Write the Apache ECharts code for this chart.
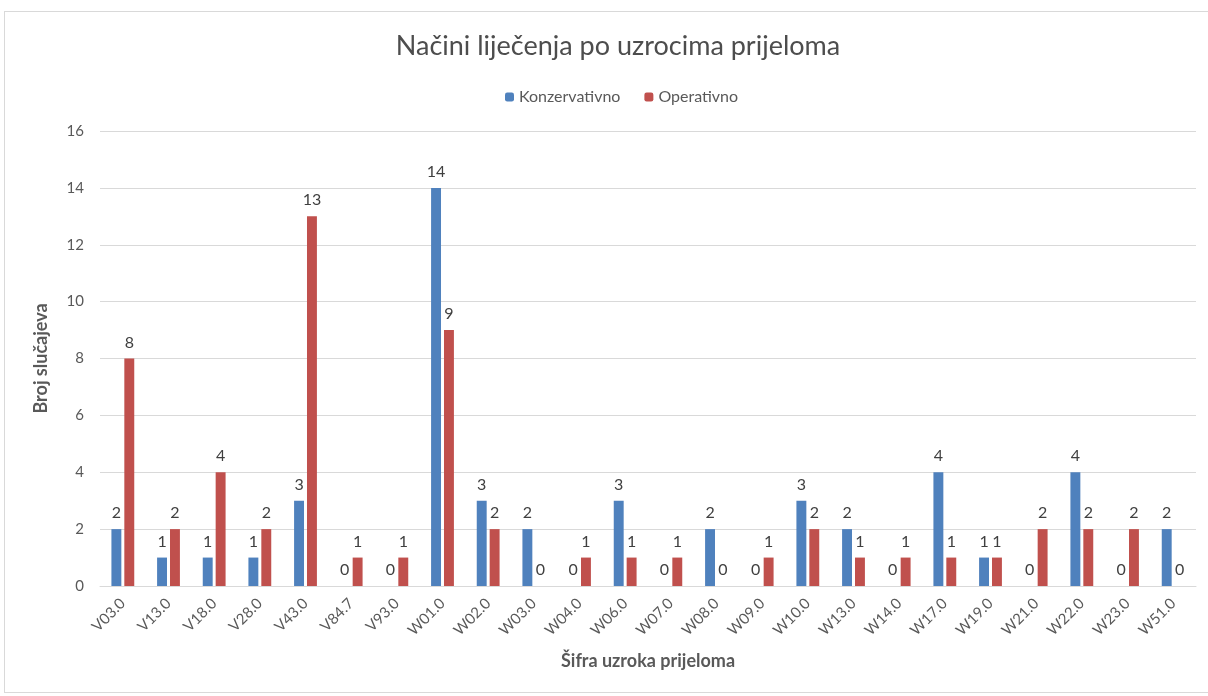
<!DOCTYPE html>
<html>
<head>
<meta charset="utf-8">
<script src="https://cdn.jsdelivr.net/npm/echarts@6/dist/echarts.min.js"></script>
<style>
  body { margin: 0; background: #fff; }
  #chart { width: 1208px; height: 696px; }
  .frame { position: absolute; left: 4px; top: 11px; width: 1210px; height: 680px; border: 1px solid #d9d9d9; pointer-events: none; }
</style>
</head>
<body>
<div id="chart"></div>
<div class="frame"></div>
<script>
// podaci s grafa
const categories = ['V03.0', 'V13.0', 'V18.0', 'V28.0', 'V43.0', 'V84.7', 'V93.0', 'W01.0', 'W02.0', 'W03.0',
  'W04.0', 'W06.0', 'W07.0', 'W08.0', 'W09.0', 'W10.0', 'W13.0', 'W14.0', 'W17.0', 'W19.0', 'W21.0', 'W22.0', 'W23.0', 'W51.0']
const konzervativno = [2, 1, 1, 1, 3, 0, 0, 14, 3, 2, 0, 3, 0, 2, 0, 3, 2, 0, 4, 1, 0, 4, 0, 2]
const operativno = [8, 2, 4, 2, 13, 1, 1, 9, 2, 0, 1, 1, 1, 0, 1, 2, 1, 1, 1, 1, 2, 2, 2, 0]

const font = 'Lato, "Open Sans", sans-serif'
const chart = echarts.init(document.getElementById('chart'))

const labelStyle = {
  show: true,
  position: 'top',
  distance: 8,
  color: '#404040',
  fontSize: 16,
  fontFamily: font
}

chart.setOption({
  animation: false,
  title: {
    text: 'Načini liječenja po uzrocima prijeloma',
    left: 613,
    textAlign: 'center',
    top: 28,
    textStyle: { color: '#4d4d4d', fontSize: 27, fontWeight: 'normal', fontFamily: font }
  },
  legend: {
    top: 84,
    left: 500,
    itemWidth: 9,
    itemHeight: 9,
    itemGap: 24,
    textStyle: { color: '#595959', fontSize: 16, fontFamily: font },
    data: ['Konzervativno', 'Operativno']
  },
  grid: { left: 100, right: 12, top: 131, bottom: 110 },
  xAxis: {
    type: 'category',
    data: categories,
    name: 'Šifra uzroka prijeloma',
    nameLocation: 'middle',
    nameGap: 66,
    nameTextStyle: { color: '#595959', fontSize: 18, fontWeight: 'bold', fontFamily: font },
    axisLine: { lineStyle: { color: '#d9d9d9' } },
    axisTick: { show: false },
    axisLabel: { interval: 0, rotate: 45, margin: 15, color: '#595959', fontSize: 15, fontFamily: font }
  },
  yAxis: {
    type: 'value',
    min: 0,
    max: 16,
    interval: 2,
    name: 'Broj slučajeva',
    nameLocation: 'middle',
    nameGap: 50,
    nameTextStyle: { color: '#595959', fontSize: 18, fontWeight: 'bold', fontFamily: font },
    axisLine: { show: false },
    axisTick: { show: false },
    axisLabel: { margin: 16, color: '#595959', fontSize: 15, fontFamily: font },
    splitLine: { lineStyle: { color: '#d9d9d9' } }
  },
  series: [
    {
      name: 'Konzervativno',
      type: 'bar',
      data: konzervativno,
      barGap: '30%',
      barCategoryGap: '50%',
      itemStyle: { color: '#4f81bd' },
      label: labelStyle
    },
    {
      name: 'Operativno',
      type: 'bar',
      data: operativno,
      itemStyle: { color: '#c0504d' },
      label: labelStyle
    }
  ]
})
</script>
</body>
</html>
